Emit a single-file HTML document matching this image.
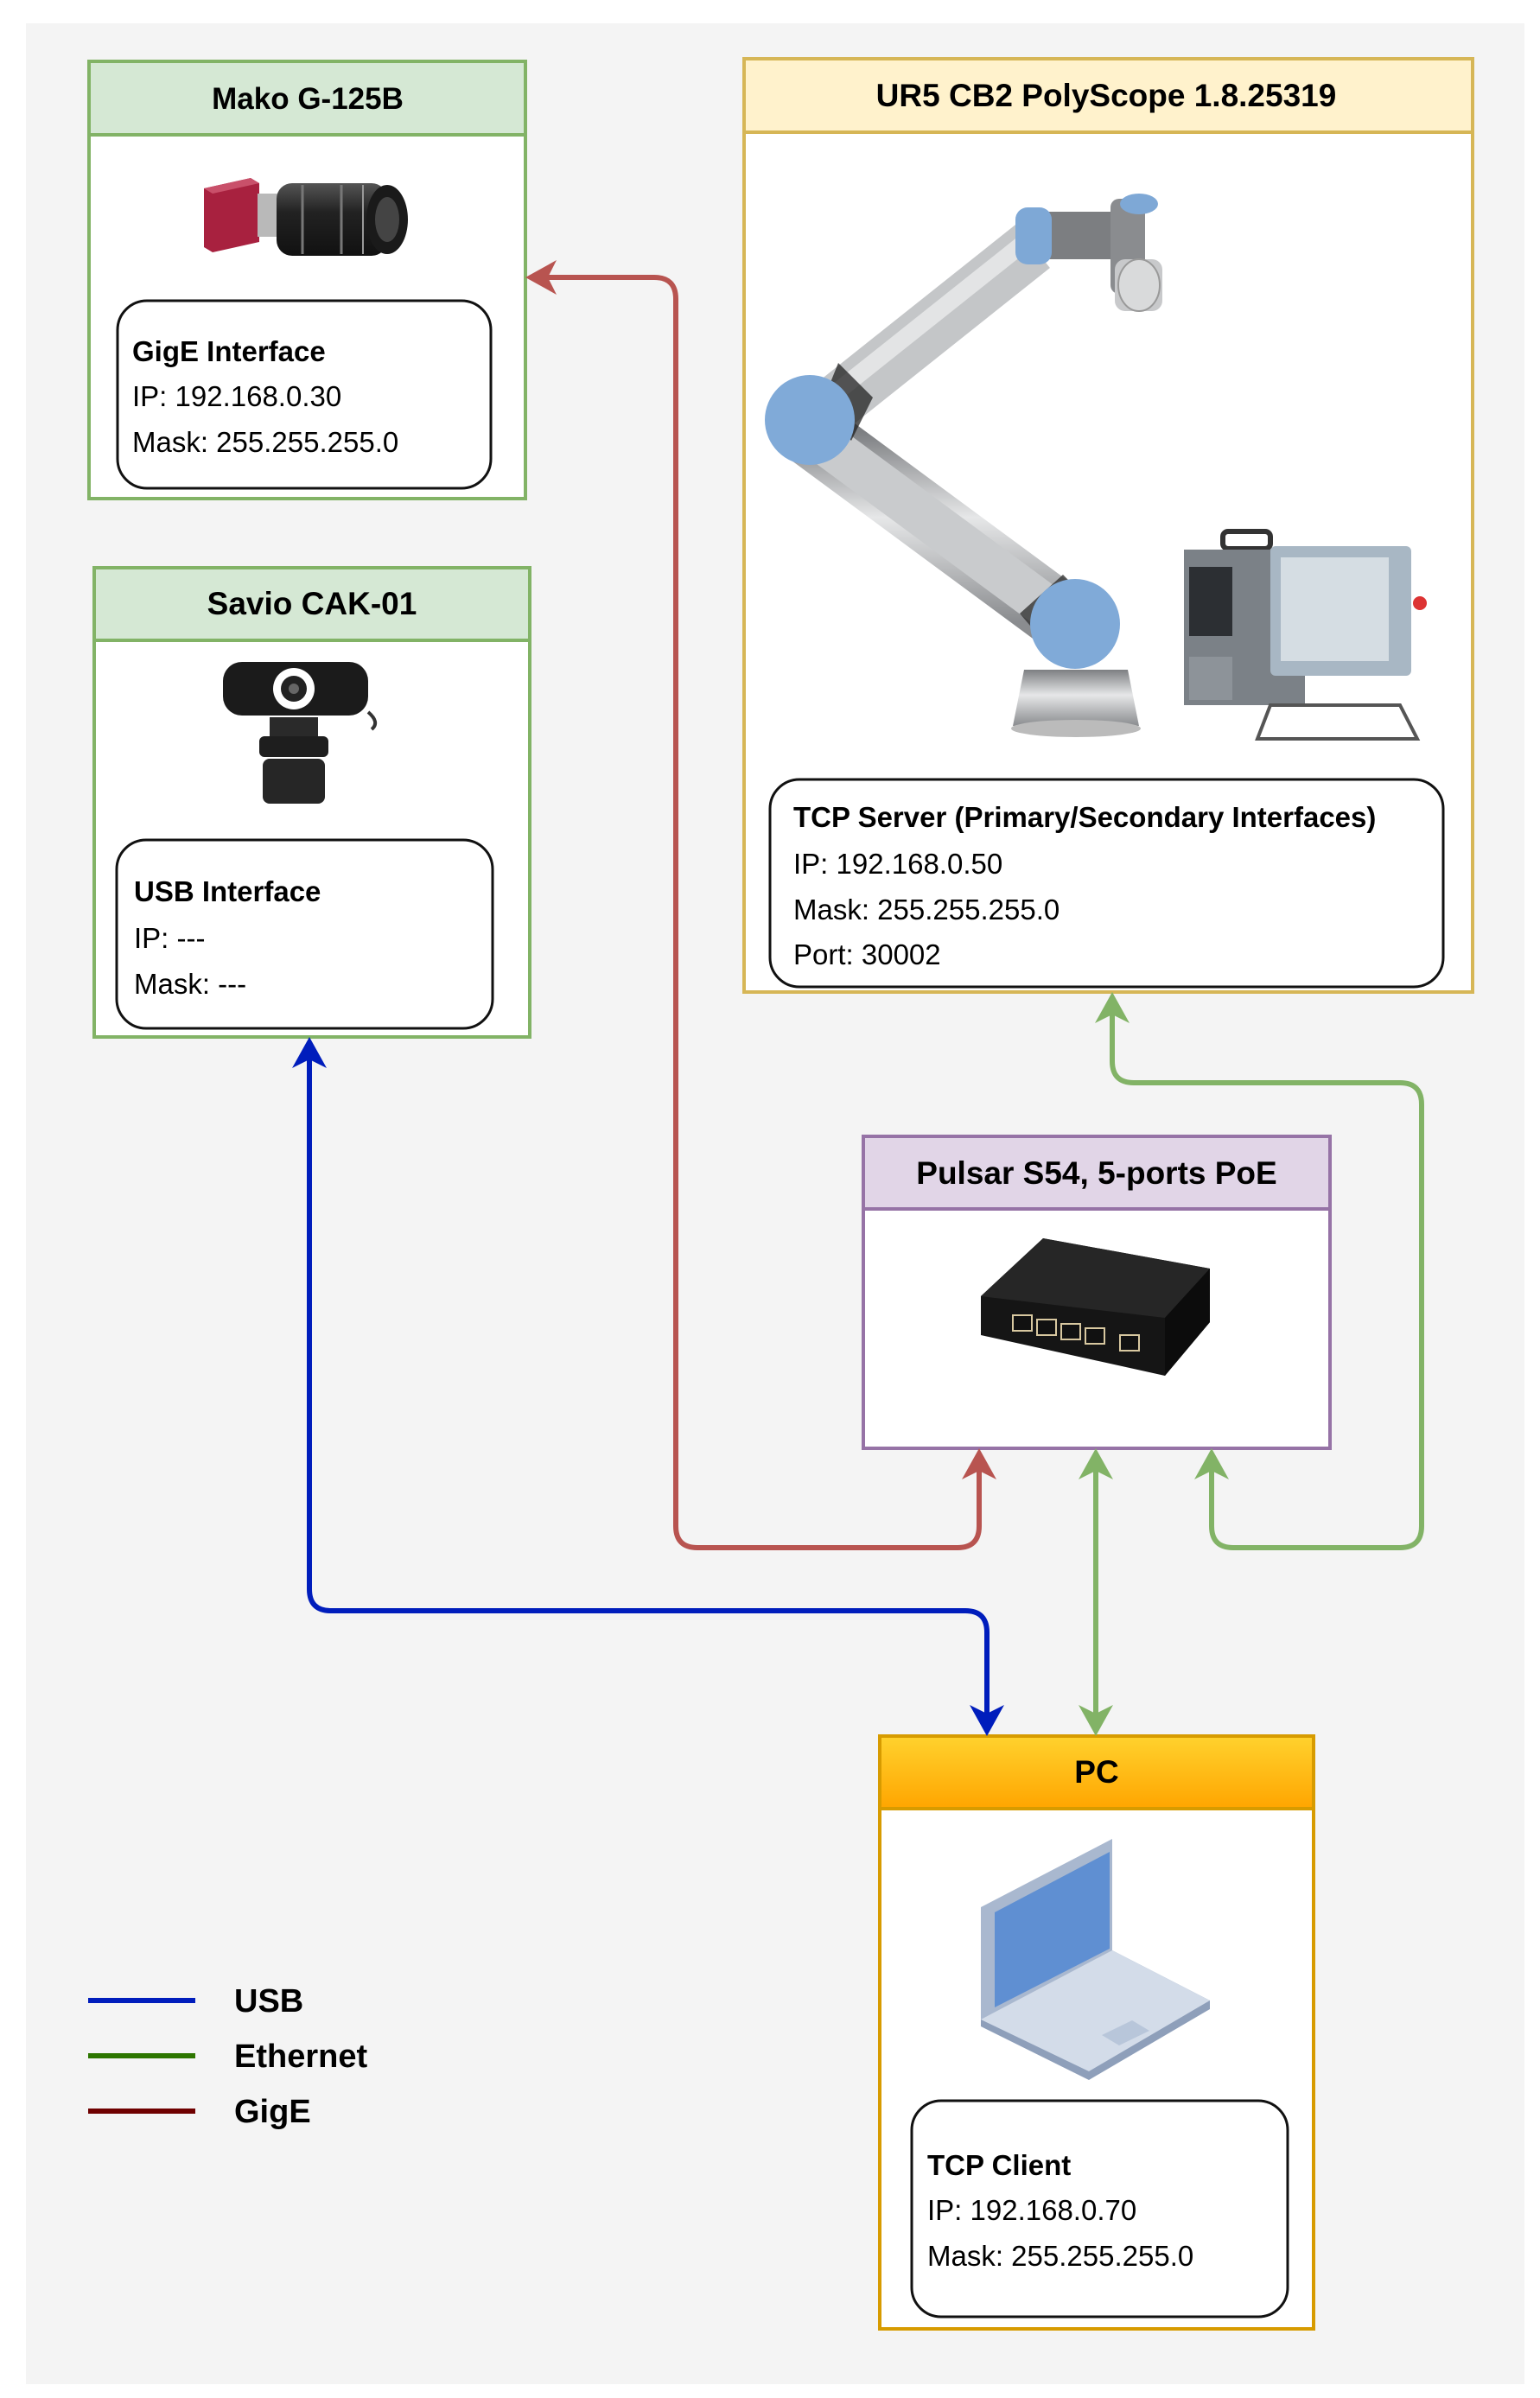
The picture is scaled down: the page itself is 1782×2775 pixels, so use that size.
<!DOCTYPE html>
<html><head><meta charset="utf-8"><style>
html,body{margin:0;padding:0;background:#fff}
svg{display:block}
text{font-family:"Liberation Sans",Arial,sans-serif;fill:#000}
</style></head><body>
<svg width="1782" height="2775" viewBox="0 0 1782 2775" xmlns="http://www.w3.org/2000/svg">
<defs>
<linearGradient id="pcg" x1="0" y1="0" x2="0" y2="1"><stop offset="0" stop-color="#ffd22e"/><stop offset="1" stop-color="#ffa500"/></linearGradient>
<linearGradient id="metal" x1="0" y1="0" x2="0" y2="1"><stop offset="0" stop-color="#7d7f82"/><stop offset="0.45" stop-color="#e6e7e8"/><stop offset="1" stop-color="#8a8c8f"/></linearGradient>
<linearGradient id="lens" x1="0" y1="0" x2="0" y2="1"><stop offset="0" stop-color="#555"/><stop offset="0.4" stop-color="#222"/><stop offset="1" stop-color="#111"/></linearGradient>
</defs>
<rect x="30" y="27" width="1734" height="2732" fill="#f4f4f4"/>

<!-- Mako -->
<rect x="103" y="71" width="505" height="506" fill="#fff" stroke="#82b366" stroke-width="4"/>
<rect x="103" y="71" width="505" height="85" fill="#d5e8d4" stroke="#82b366" stroke-width="4"/>
<text x="356" y="126" font-size="35" font-weight="bold" text-anchor="middle">Mako G-125B</text>
<g>
<path d="M236 218 L290 206 L300 212 L300 280 L246 292 L236 286 Z" fill="#a8213f"/>
<path d="M236 218 L290 206 L300 212 L246 224 Z" fill="#c9506a"/>
<rect x="298" y="224" width="30" height="50" fill="#b9b9b9"/>
<rect x="320" y="212" width="128" height="84" rx="18" fill="url(#lens)"/>
<ellipse cx="448" cy="254" rx="24" ry="40" fill="#1a1a1a"/>
<ellipse cx="448" cy="254" rx="14" ry="26" fill="#444"/>
<line x1="350" y1="214" x2="350" y2="294" stroke="#777" stroke-width="3"/>
<line x1="395" y1="214" x2="395" y2="294" stroke="#777" stroke-width="3"/>
<line x1="420" y1="214" x2="420" y2="294" stroke="#999" stroke-width="2"/>
</g>
<rect x="136" y="348" width="432" height="217" rx="34" fill="#fff" stroke="#111" stroke-width="3"/>
<text x="153" y="418" font-size="33" font-weight="bold">GigE Interface</text>
<text x="153" y="470" font-size="33">IP: 192.168.0.30</text>
<text x="153" y="523" font-size="33">Mask: 255.255.255.0</text>

<!-- Savio -->
<rect x="109" y="657" width="504" height="543" fill="#fff" stroke="#82b366" stroke-width="4"/>
<rect x="109" y="657" width="504" height="84" fill="#d5e8d4" stroke="#82b366" stroke-width="4"/>
<text x="361" y="711" font-size="37" font-weight="bold" text-anchor="middle">Savio CAK-01</text>
<g>
<rect x="258" y="766" width="168" height="62" rx="22" fill="#1b1b1b"/>
<circle cx="340" cy="797" r="24" fill="#fff"/>
<circle cx="340" cy="797" r="15" fill="#222"/>
<circle cx="340" cy="797" r="6" fill="#666"/>
<rect x="312" y="830" width="56" height="22" fill="#2a2a2a"/>
<rect x="300" y="852" width="80" height="24" rx="6" fill="#1e1e1e"/>
<rect x="304" y="878" width="72" height="52" rx="8" fill="#262626"/>
<path d="M426 824 Q440 836 430 844" stroke="#333" stroke-width="4" fill="none"/>
</g>
<rect x="135" y="972" width="435" height="218" rx="34" fill="#fff" stroke="#111" stroke-width="3"/>
<text x="155" y="1043" font-size="33" font-weight="bold">USB Interface</text>
<text x="155" y="1097" font-size="33">IP: ---</text>
<text x="155" y="1150" font-size="33">Mask: ---</text>

<!-- UR5 -->
<rect x="861" y="68" width="843" height="1080" fill="#fff" stroke="#d6b656" stroke-width="4"/>
<rect x="861" y="68" width="843" height="85" fill="#fff2cc" stroke="#d6b656" stroke-width="4"/>
<text x="1280" y="123" font-size="37" font-weight="bold" text-anchor="middle">UR5 CB2 PolyScope 1.8.25319</text>
<g>
<path d="M1185 775 L1305 775 L1318 840 L1172 840 Z" fill="url(#metal)"/>
<ellipse cx="1245" cy="843" rx="75" ry="10" fill="#bbb"/>
<line x1="937" y1="500" x2="1235" y2="720" stroke="url(#metal)" stroke-width="78" stroke-linecap="round"/>
<line x1="937" y1="500" x2="1235" y2="720" stroke="#c9cbcd" stroke-width="50"/>
<line x1="950" y1="480" x2="1195" y2="285" stroke="#c4c6c8" stroke-width="64"/>
<line x1="950" y1="468" x2="1195" y2="273" stroke="#e3e4e5" stroke-width="20"/>
<rect x="1180" y="245" width="130" height="55" rx="8" fill="#7c7e81"/>
<rect x="1285" y="230" width="40" height="110" rx="10" fill="#8a8c8f"/>
<rect x="1290" y="300" width="55" height="60" rx="12" fill="#c8c9cb"/>
<ellipse cx="1318" cy="330" rx="24" ry="30" fill="#d9dadb" stroke="#999" stroke-width="2"/>
<ellipse cx="1318" cy="236" rx="22" ry="12" fill="#7ea8d6"/>
<rect x="1175" y="240" width="42" height="66" rx="14" fill="#7ea8d6"/>
<path d="M970 420 L1010 460 L985 510 L950 470 Z" fill="#222" opacity="0.75"/>
<circle cx="937" cy="486" r="52" fill="#80aad8"/>
<path d="M1180 710 L1230 665 L1265 700 L1210 745 Z" fill="#333" opacity="0.8"/>
<circle cx="1244" cy="722" r="52" fill="#80aad8"/>
<rect x="1415" y="615" width="55" height="20" rx="6" fill="none" stroke="#333" stroke-width="6"/>
<rect x="1370" y="636" width="140" height="180" fill="#7b8187"/>
<rect x="1376" y="656" width="50" height="80" fill="#2c2f33"/>
<rect x="1376" y="760" width="50" height="50" fill="#8d9399"/>
<rect x="1470" y="632" width="163" height="150" rx="6" fill="#a8b7c4"/>
<rect x="1482" y="645" width="125" height="120" fill="#d5dde3"/>
<circle cx="1643" cy="698" r="8" fill="#d33"/>
<path d="M1470 816 L1620 816 L1640 855 L1455 855 Z" fill="none" stroke="#555" stroke-width="4"/>
</g>
<rect x="891" y="902" width="779" height="240" rx="34" fill="#fff" stroke="#111" stroke-width="3"/>
<text x="918" y="957" font-size="33" font-weight="bold">TCP Server (Primary/Secondary Interfaces)</text>
<text x="918" y="1011" font-size="33">IP: 192.168.0.50</text>
<text x="918" y="1064" font-size="33">Mask: 255.255.255.0</text>
<text x="918" y="1116" font-size="33">Port: 30002</text>

<!-- Pulsar -->
<rect x="999" y="1315" width="540" height="361" fill="#fff" stroke="#9673a6" stroke-width="4"/>
<rect x="999" y="1315" width="540" height="84" fill="#e1d5e7" stroke="#9673a6" stroke-width="4"/>
<text x="1269" y="1370" font-size="37" font-weight="bold" text-anchor="middle">Pulsar S54, 5-ports PoE</text>
<g>
<path d="M1135 1500 L1207 1433 L1400 1468 L1400 1530 L1348 1592 L1135 1545 Z" fill="#151515"/>
<path d="M1135 1500 L1207 1433 L1400 1468 L1348 1525 Z" fill="#262626"/>
<path d="M1348 1525 L1400 1468 L1400 1530 L1348 1592 Z" fill="#0c0c0c"/>
<g fill="#111" stroke="#d8c8a0" stroke-width="2">
<rect x="1172" y="1522" width="22" height="18"/><rect x="1200" y="1527" width="22" height="18"/>
<rect x="1228" y="1532" width="22" height="18"/><rect x="1256" y="1537" width="22" height="18"/>
<rect x="1296" y="1545" width="22" height="18"/>
</g>
</g>

<!-- PC -->
<rect x="1018" y="2009" width="502" height="686" fill="#fff" stroke="#d79b00" stroke-width="4"/>
<rect x="1018" y="2009" width="502" height="84" fill="url(#pcg)" stroke="#d79b00" stroke-width="4"/>
<text x="1269" y="2063" font-size="37" font-weight="bold" text-anchor="middle">PC</text>
<g>
<path d="M1135 2207 L1287 2128 L1287 2257 L1135 2337 Z" fill="#a9b8cf"/>
<path d="M1151 2213 L1284 2143 L1284 2255 L1151 2323 Z" fill="#5f8fd2"/>
<path d="M1135 2337 L1287 2257 L1400 2315 L1400 2325 L1260 2407 L1135 2345 Z" fill="#8e9fba"/>
<path d="M1135 2337 L1287 2257 L1400 2315 L1260 2397 Z" fill="#d3dce9"/>
<path d="M1275 2355 L1310 2338 L1330 2350 L1295 2367 Z" fill="#b8c6da"/>
</g>
<rect x="1055" y="2431" width="435" height="250" rx="34" fill="#fff" stroke="#111" stroke-width="3"/>
<text x="1073" y="2517" font-size="33" font-weight="bold">TCP Client</text>
<text x="1073" y="2569" font-size="33">IP: 192.168.0.70</text>
<text x="1073" y="2622" font-size="33">Mask: 255.255.255.0</text>

<!-- connectors -->
<g fill="none" stroke-width="6" stroke-linejoin="round">
<path d="M1133 1700 L1133 1766 Q1133 1791 1108 1791 L807 1791 Q782 1791 782 1766 L782 346 Q782 321 757 321 L630 321" stroke="#b85450"/>
<path d="M1268 1700 L1268 1985" stroke="#82b366"/>
<path d="M1402 1700 L1402 1766 Q1402 1791 1427 1791 L1620 1791 Q1645 1791 1645 1766 L1645 1278 Q1645 1253 1620 1253 L1312 1253 Q1287 1253 1287 1228 L1287 1172" stroke="#82b366"/>
<path d="M358 1224 L358 1839 Q358 1864 383 1864 L1117 1864 Q1142 1864 1142 1889 L1142 1985" stroke="#001dbc"/>
</g>
<g>
<path d="M608 321 L644 301 L634 321 L644 341 Z" fill="#b85450"/>
<path d="M1133 1676 L1113 1712 L1133 1702 L1153 1712 Z" fill="#b85450"/>
<path d="M1268 1676 L1248 1712 L1268 1702 L1288 1712 Z" fill="#82b366"/>
<path d="M1268 2009 L1248 1973 L1268 1983 L1288 1973 Z" fill="#82b366"/>
<path d="M1402 1676 L1382 1712 L1402 1702 L1422 1712 Z" fill="#82b366"/>
<path d="M1287 1148 L1267 1184 L1287 1174 L1307 1184 Z" fill="#82b366"/>
<path d="M358 1200 L338 1236 L358 1226 L378 1236 Z" fill="#001dbc"/>
<path d="M1142 2009 L1122 1973 L1142 1983 L1162 1973 Z" fill="#001dbc"/>
</g>

<!-- legend -->
<line x1="102" y1="2315" x2="226" y2="2315" stroke="#001dbc" stroke-width="6"/>
<line x1="102" y1="2379" x2="226" y2="2379" stroke="#2d7600" stroke-width="6"/>
<line x1="102" y1="2443" x2="226" y2="2443" stroke="#6f0000" stroke-width="6"/>
<text x="271" y="2328" font-size="38" font-weight="bold">USB</text>
<text x="271" y="2392" font-size="38" font-weight="bold">Ethernet</text>
<text x="271" y="2456" font-size="38" font-weight="bold">GigE</text>
</svg>
</body></html>
